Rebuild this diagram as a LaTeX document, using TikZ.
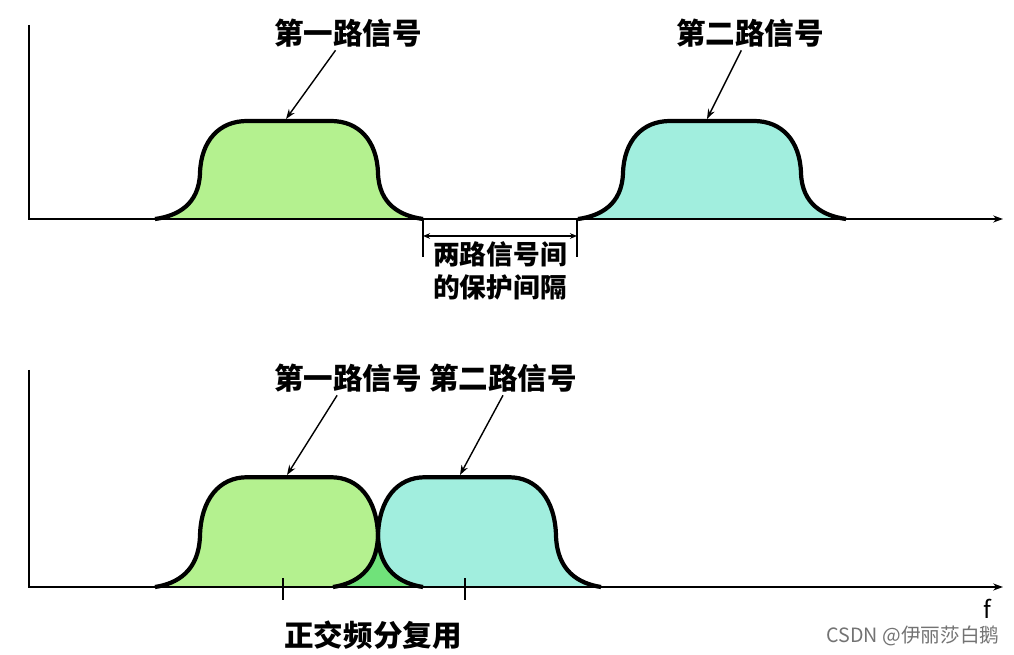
\documentclass[tikz,border=0pt]{standalone}
\usepackage{fontspec}
\usepackage{tikz}
\usetikzlibrary{arrows.meta}
\newfontfamily\cjk{Noto Sans CJK SC}

\definecolor{pulsegreen}{RGB}{180,241,143}
\definecolor{pulsecyan}{RGB}{161,238,222}
\definecolor{overlapgreen}{RGB}{112,226,122}

\newcommand{\pulseshape}{(0,0) .. controls (22,3) and (44,14) .. (45,46)
    .. controls (46,78) and (64,98) .. (92,98) -- (176,98)
    .. controls (204,98) and (222,78) .. (223,46)
    .. controls (224,14) and (246,3) .. (268,0)}

\begin{document}
\begin{tikzpicture}[
        x=0.025cm, y=-0.025cm,
        axis/.style={
            line width=1.3pt,
            -{Stealth[length=7pt,width=5pt]}
        },
        pulse/.style={
            line width=3pt,
            line join=round
        },
        pointer/.style={
            line width=1pt,
            -{Stealth[length=7pt,width=5pt]}
        },
        lbl/.style={
            font=\cjk\bfseries\fontsize{21}{24}\selectfont,
            inner sep=2pt
        },
        note/.style={
            font=\cjk\bfseries\fontsize{19}{23}\selectfont,
            align=center,
            inner sep=0pt
        }
    ]
    \useasboundingbox (0,0) rectangle (1014,655);

    % upper panel
    \coordinate (yt1) at (29,25);
    \coordinate (o1) at (29,219);
    \coordinate (xe1) at (1003,219);
    \draw[pulse, fill=pulsegreen, shift={(155,219)}, yscale=-1] \pulseshape;
    \draw[pulse, fill=pulsecyan, shift={(578,219)}, yscale=-1] \pulseshape;
    \draw[axis] (yt1) -- (o1) -- (xe1);

    \coordinate (top1a) at (286,119);
    \coordinate (top2a) at (707,119);
    \node[lbl] (sig1a) at (348,33) {第一路信号};
    \node[lbl] (sig2a) at (750,33) {第二路信号};
    \draw[pointer] (sig1a) -- (top1a);
    \draw[pointer] (sig2a) -- (top2a);

    \coordinate (gl) at (423,219);
    \coordinate (gr) at (577,219);
    \coordinate (glb) at (423,257);
    \coordinate (grb) at (577,257);
    \coordinate (gla) at (423,236);
    \coordinate (gra) at (577,236);
    \draw[line width=1pt] (gl) -- (glb);
    \draw[line width=1pt] (gr) -- (grb);
    \draw[line width=0.8pt, {Stealth[length=5pt,width=4pt]}-{Stealth[length=5pt,width=4pt]}] (gla) -- (gra);
    \node[note] (guard) at (500,271) {两路信号间\\的保护间隔};

    % lower panel
    \coordinate (yt2) at (29,370);
    \coordinate (o2) at (29,587);
    \coordinate (xe2) at (1003,587);
    \fill[pulsegreen, shift={(155,587)}, yscale=-1.12] \pulseshape;
    \fill[pulsecyan, shift={(333,587)}, yscale=-1.12] \pulseshape;
    \begin{scope}
        \clip[shift={(155,587)}, yscale=-1.12] \pulseshape;
        \fill[overlapgreen, shift={(333,587)}, yscale=-1.12] \pulseshape;
    \end{scope}
    \draw[pulse, shift={(155,587)}, yscale=-1.12] \pulseshape;
    \draw[pulse, shift={(333,587)}, yscale=-1.12] \pulseshape;
    \draw[axis] (yt2) -- (o2) -- (xe2);

    \coordinate (tk1) at (283,578);
    \coordinate (tk1b) at (283,600);
    \coordinate (tk2) at (465,578);
    \coordinate (tk2b) at (465,600);
    \draw[line width=1pt] (tk1) -- (tk1b);
    \draw[line width=1pt] (tk2) -- (tk2b);

    \coordinate (top1b) at (287,475);
    \coordinate (top2b) at (460,475);
    \node[lbl] (sig1b) at (348,378) {第一路信号};
    \node[lbl] (sig2b) at (503,378) {第二路信号};
    \draw[pointer] (sig1b) -- (top1b);
    \draw[pointer] (sig2b.south) -- (top2b);

    \node[lbl] (ofdm) at (373,635) {正交频分复用};
    \node[font=\cjk\fontsize{17}{20}\selectfont, inner sep=0pt] (flabel) at (987,609) {f};
    \node[font=\cjk\fontsize{14}{16}\selectfont, text=black!55, inner sep=0pt] (mark) at (913,636) {CSDN @伊丽莎白鹅};
\end{tikzpicture}
\end{document}
